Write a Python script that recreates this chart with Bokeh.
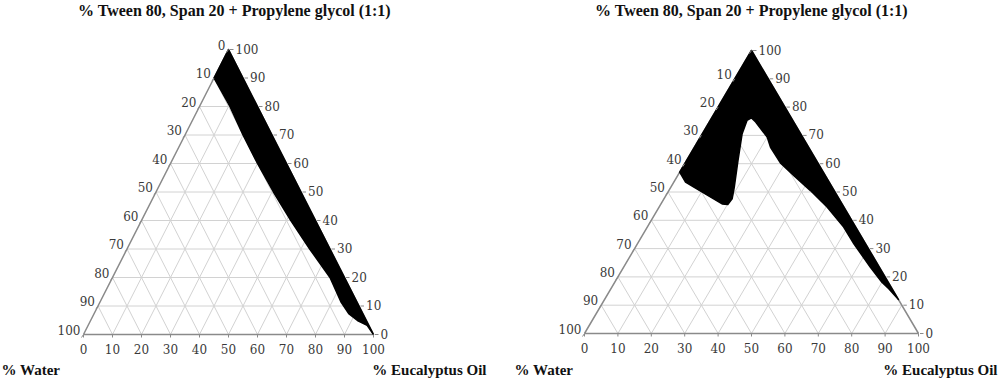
from bokeh.plotting import figure
from bokeh.layouts import row
from bokeh.models import Range1d
from bokeh.core.properties import value
from bokeh.embed import file_html
from bokeh.resources import INLINE

# ---------------- data ----------------
TITLE = "% Tween 80, Span 20 + Propylene glycol (1:1)"
WATER_LABEL = "% Water"
OIL_LABEL = "% Eucalyptus Oil"

TICKS = [0, 10, 20, 30, 40, 50, 60, 70, 80, 90, 100]
TICK_LABELS = ["0", "10", "20", "30", "40", "50", "60", "70", "80", "90", "100"]

# Left diagram: boundary of the black (microemulsion) region, composition in %
left_oil = [0, 0, 10.5, 20, 30, 40.5, 51.5, 63, 75, 83, 87.8, 92, 96.2, 100]
left_surfactant = [100, 90, 80, 70, 60, 50, 40, 30, 20, 11.5, 7.3, 4.9, 3.2, 0]
left_water = [0, 10, 9.5, 10, 10, 9.5, 8.5, 7, 5, 5.5, 4.9, 3.1, 0.6, 0]

# Right diagram: boundary of the black region, composition in %
right_oil = [0, 0, 3.5, 6.9, 18.3, 20.1, 20.4, 19.0, 15.4, 11.9, 11.0, 11.9, 13.9,
             20.0, 22.8, 28.5, 34.8, 42.4, 50.4, 58.8, 64.8, 73.9, 80.0, 83.2, 88.0]
right_surfactant = [100, 57, 53.5, 51.7, 45.8, 45.6, 47.6, 51.7, 61.1, 70.6, 75.3, 76.2, 74.7,
                    69.4, 65.8, 60.3, 55.8, 50.5, 44.6, 37.6, 31.7, 23.4, 18.1, 15.8, 12.0]
right_water = [0, 43, 43, 41.4, 35.9, 34.3, 32, 29.3, 23.5, 17.5, 13.7, 11.9, 11.4,
               10.6, 11.4, 11.2, 9.4, 7.1, 5, 3.6, 3.5, 2.7, 1.9, 1, 0]

# ---------------- layout (page pixels) ----------------
FIG_TOP = 0
FIG_H = 378
LEFT_G = dict(fig_left=0, fig_w=500, bl=83, br=373, base=334, top=49,
              title_x=234, water_x=1, oil_right=486, show_top_zero=True)
RIGHT_G = dict(fig_left=500, fig_w=500, bl=584, br=918, base=333, top=50,
               title_x=751, water_x=514, oil_right=997, show_top_zero=False)

FONT_TICK = value("DejaVu Serif")
FONT_TITLE = value("Liberation Serif")
GRID_COLOR = "#d2d2d2"
AXIS_COLOR = "#8a8a8a"
TICK_TEXT = "#3a3a3a"


def tern(oil, surf):
    """ternary composition -> cartesian (base 0..100, height 0..100)"""
    return [o + s / 2.0 for o, s in zip(oil, surf)], list(surf)


def build(g, oil, surf):
    sx = (g["br"] - g["bl"]) / 100.0
    sy = (g["base"] - g["top"]) / 100.0
    x0 = (g["fig_left"] - g["bl"]) / sx
    x1 = (g["fig_left"] + g["fig_w"] - g["bl"]) / sx
    y1 = (g["base"] - FIG_TOP) / sy
    y0 = (g["base"] - (FIG_TOP + FIG_H)) / sy

    def pg(px, py):
        return (px - g["bl"]) / sx, (g["base"] - py) / sy

    p = figure(width=g["fig_w"], height=FIG_H, x_range=Range1d(x0, x1), y_range=Range1d(y0, y1),
               output_backend="svg", toolbar_location=None, x_axis_type=None, y_axis_type=None,
               min_border=0, outline_line_color=None, background_fill_color="white",
               border_fill_color="white")

    # triangular grid
    gx, gy = [], []
    for t in TICKS[1:-1]:
        a, b = tern([0, 100 - t], [t, t])          # constant surfactant
        gx.append(a); gy.append(b)
        a, b = tern([t, t], [0, 100 - t])          # constant oil
        gx.append(a); gy.append(b)
        a, b = tern([100 - t, 0], [0, 100 - t])    # constant water
        gx.append(a); gy.append(b)
    p.multi_line(gx, gy, line_color=GRID_COLOR, line_width=1)

    # triangle axes
    ax, ay = tern([0, 100, 0, 0], [0, 0, 100, 0])
    p.line(ax, ay, line_color=AXIS_COLOR, line_width=1.5)

    # black region
    px_, py_ = tern(oil, surf)
    p.patch(px_, py_, fill_color="black", line_color="black", line_width=1.5,
            line_join="round")

    # ticks
    tx, ty = [], []
    bx, by = tern(TICKS, [0] * len(TICKS))                      # bottom: oil
    rx, ry = tern([100 - t for t in TICKS], TICKS)             # right: surfactant
    lx, ly = tern([0] * len(TICKS), [100 - t for t in TICKS])  # left: water
    for x, y in zip(bx, by):
        tx.append([x, x]); ty.append([y, y - 3 / sy])
    for x, y in zip(rx, ry):
        tx.append([x + 1.5 / sx, x + 5 / sx]); ty.append([y, y])
    for x, y in zip(lx, ly):
        tx.append([x, x - 2 / sx]); ty.append([y, y - 3 / sy])
    p.multi_line(tx, ty, line_color=AXIS_COLOR, line_width=1)

    # tick labels
    p.text(x=bx, y=[y - 14 / sy for y in by], text=TICK_LABELS, text_font=FONT_TICK,
           text_font_size="12px", text_color=TICK_TEXT, text_align="center",
           text_baseline="middle")
    p.text(x=[x + 7 / sx for x in rx], y=[y + 1 / sy for y in ry], text=TICK_LABELS,
           text_font=FONT_TICK, text_font_size="12px", text_color=TICK_TEXT,
           text_align="left", text_baseline="middle")
    keep = [i for i in range(len(TICKS)) if g["show_top_zero"] or TICKS[i] != 0]
    p.text(x=[lx[i] - 3 / sx for i in keep], y=[ly[i] + 5 / sy for i in keep],
           text=[TICK_LABELS[i] for i in keep], text_font=FONT_TICK, text_font_size="12px",
           text_color=TICK_TEXT, text_align="right", text_baseline="middle")

    # titles
    tx0, ty0 = pg(g["title_x"], 9.5)
    p.text(x=[tx0], y=[ty0], text=[TITLE], text_font=FONT_TITLE, text_font_size="16px",
           text_font_style="bold", text_color="#111111", text_align="center",
           text_baseline="middle")
    wx, wy = pg(g["water_x"], 369.5)
    p.text(x=[wx], y=[wy], text=[WATER_LABEL], text_font=FONT_TITLE, text_font_size="15px",
           text_font_style="bold", text_color="#111111", text_align="left",
           text_baseline="middle")
    ox, oy = pg(g["oil_right"], 369.5)
    p.text(x=[ox], y=[oy], text=[OIL_LABEL], text_font=FONT_TITLE, text_font_size="15px",
           text_font_style="bold", text_color="#111111", text_align="right",
           text_baseline="middle")
    return p


p_left = build(LEFT_G, left_oil, left_surfactant)
p_right = build(RIGHT_G, right_oil, right_surfactant)
layout = row(p_left, p_right, spacing=0)

open("out.html", "w").write(file_html(layout, INLINE))
